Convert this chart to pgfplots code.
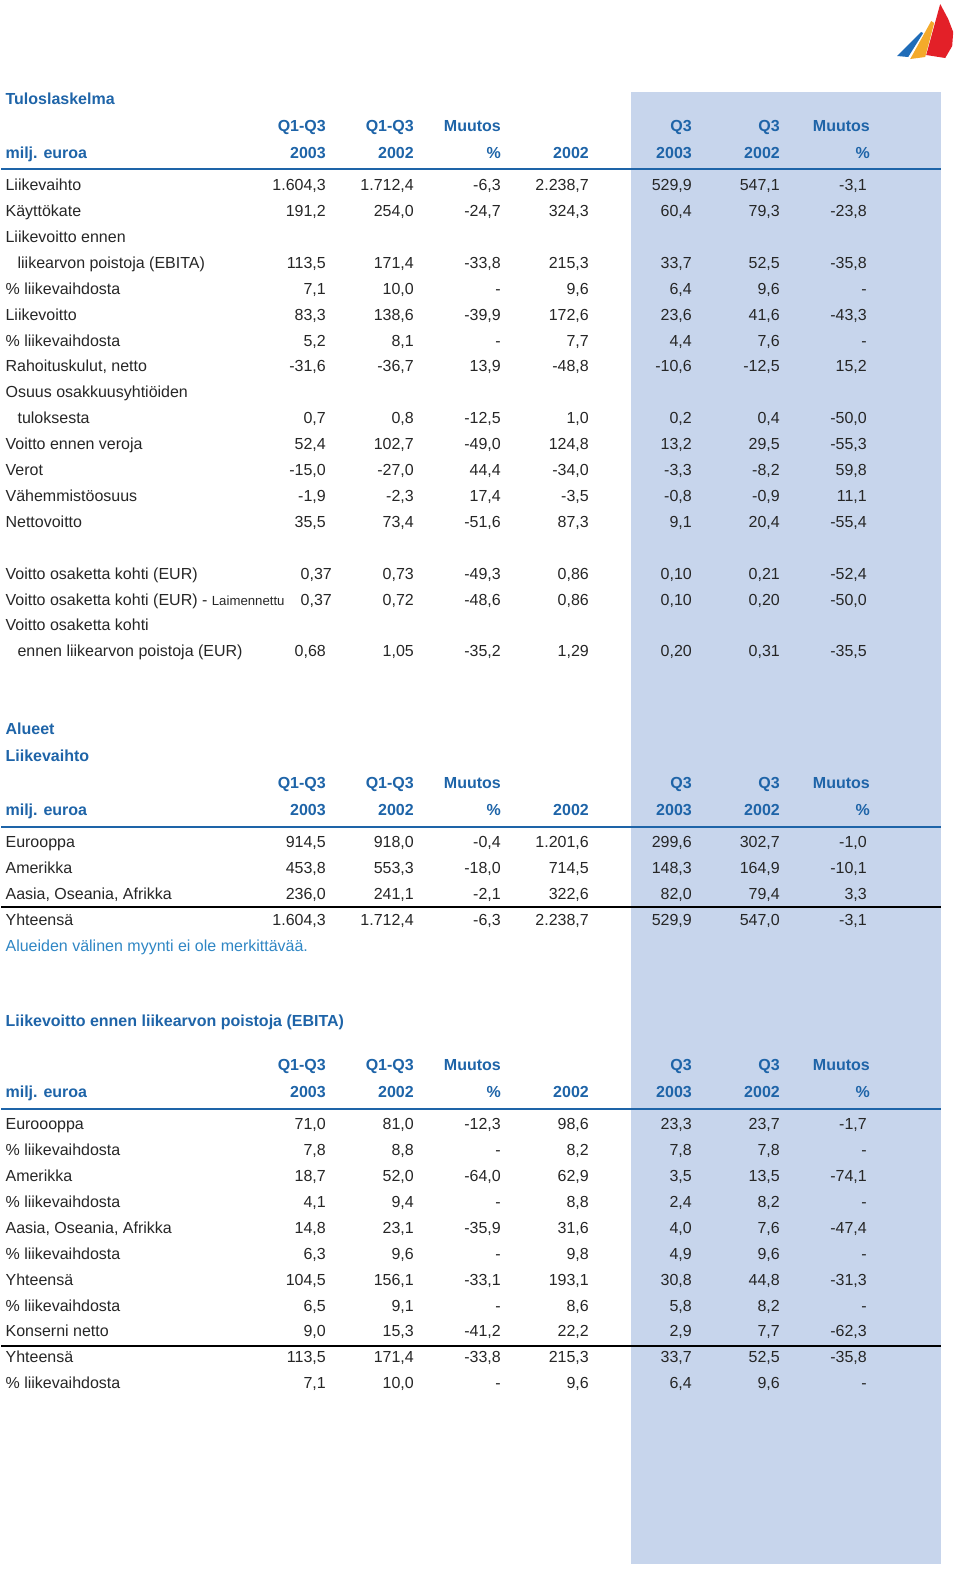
\documentclass[border=0pt]{standalone}
\usepackage{pgfplots}
\usepackage{pgfplotstable}
\usepackage{fontspec}
\setmainfont{Liberation Sans}
\pgfplotsset{compat=1.18}

\definecolor{hdrblue}{HTML}{1E64A8}
\definecolor{noteblue}{HTML}{2F86C4}
\definecolor{bgblue}{HTML}{C7D5EC}
\definecolor{txtgray}{HTML}{262626}
\definecolor{sailred}{HTML}{E32028}
\definecolor{sailyel}{HTML}{F4AA2A}
\definecolor{sailblue}{HTML}{1F6CB8}

% y = row centre in pixels, lx = x of label, ax = right edge of first column
\pgfplotstableread[col sep=semicolon]{
y;lx;ax;label;a;b;c;d;e;f;g
183;4;325;Liikevaihto;1.604,3;1.712,4;-6,3;2.238,7;529,9;547,1;-3,1
209;4;325;Käyttökate;191,2;254,0;-24,7;324,3;60,4;79,3;-23,8
235;4;325;Liikevoitto ennen;;;;;;;
261;16;325;liikearvon poistoja (EBITA);113,5;171,4;-33,8;215,3;33,7;52,5;-35,8
287;4;325;\% liikevaihdosta;7,1;10,0;-;9,6;6,4;9,6;-
313;4;325;Liikevoitto;83,3;138,6;-39,9;172,6;23,6;41,6;-43,3
339;4;325;\% liikevaihdosta;5,2;8,1;-;7,7;4,4;7,6;-
364;4;325;Rahoituskulut, netto;-31,6;-36,7;13,9;-48,8;-10,6;-12,5;15,2
390;4;325;Osuus osakkuusyhtiöiden;;;;;;;
416;16;325;tuloksesta;0,7;0,8;-12,5;1,0;0,2;0,4;-50,0
442;4;325;Voitto ennen veroja;52,4;102,7;-49,0;124,8;13,2;29,5;-55,3
468;4;325;Verot;-15,0;-27,0;44,4;-34,0;-3,3;-8,2;59,8
494;4;325;Vähemmistöosuus;-1,9;-2,3;17,4;-3,5;-0,8;-0,9;11,1
520;4;325;Nettovoitto;35,5;73,4;-51,6;87,3;9,1;20,4;-55,4
572;4;331;Voitto osaketta kohti (EUR);0,37;0,73;-49,3;0,86;0,10;0,21;-52,4
598;4;331;Voitto osaketta kohti (EUR) - {\fontsize{6.6}{7}\selectfont Laimennettu};0,37;0,72;-48,6;0,86;0,10;0,20;-50,0
623;4;325;Voitto osaketta kohti;;;;;;;
649;16;325;ennen liikearvon poistoja (EUR);0,68;1,05;-35,2;1,29;0,20;0,31;-35,5
840;4;325;Eurooppa;914,5;918,0;-0,4;1.201,6;299,6;302,7;-1,0
866;4;325;Amerikka;453,8;553,3;-18,0;714,5;148,3;164,9;-10,1
892;4;325;Aasia, Oseania, Afrikka;236,0;241,1;-2,1;322,6;82,0;79,4;3,3
918;4;325;Yhteensä;1.604,3;1.712,4;-6,3;2.238,7;529,9;547,0;-3,1
1122;4;325;Euroooppa;71,0;81,0;-12,3;98,6;23,3;23,7;-1,7
1148;4;325;\% liikevaihdosta;7,8;8,8;-;8,2;7,8;7,8;-
1174;4;325;Amerikka;18,7;52,0;-64,0;62,9;3,5;13,5;-74,1
1200;4;325;\% liikevaihdosta;4,1;9,4;-;8,8;2,4;8,2;-
1226;4;325;Aasia, Oseania, Afrikka;14,8;23,1;-35,9;31,6;4,0;7,6;-47,4
1252;4;325;\% liikevaihdosta;6,3;9,6;-;9,8;4,9;9,6;-
1278;4;325;Yhteensä;104,5;156,1;-33,1;193,1;30,8;44,8;-31,3
1304;4;325;\% liikevaihdosta;6,5;9,1;-;8,6;5,8;8,2;-
1329;4;325;Konserni netto;9,0;15,3;-41,2;22,2;2,9;7,7;-62,3
1355;4;325;Yhteensä;113,5;171,4;-33,8;215,3;33,7;52,5;-35,8
1381;4;325;\% liikevaihdosta;7,1;10,0;-;9,6;6,4;9,6;-
}\body

\pgfplotstableread[col sep=semicolon]{
y;label;a;b;c;d;e;f;g
124;;Q1-Q3;Q1-Q3;Muutos;;Q3;Q3;Muutos
151;milj. euroa;2003;2002;\%;2002;2003;2002;\%
781;;Q1-Q3;Q1-Q3;Muutos;;Q3;Q3;Muutos
808;milj. euroa;2003;2002;\%;2002;2003;2002;\%
1063;;Q1-Q3;Q1-Q3;Muutos;;Q3;Q3;Muutos
1090;milj. euroa;2003;2002;\%;2002;2003;2002;\%
}\hdr

\pgfplotsset{
  txt/.style={draw=none, mark=none, nodes near coords, point meta=explicit symbolic,
    nodes near coords style={anchor=base east, yshift=-3.6pt, inner sep=0pt,
      font=\fontsize{8}{9}\selectfont, text=txtgray}},
  txtl/.style={txt, nodes near coords style={anchor=base west}},
  bold/.style={nodes near coords style={font=\fontsize{8}{9}\selectfont\bfseries, text=hdrblue}},
}

\begin{document}
\begin{tikzpicture}
\begin{axis}[
    scale only axis, width=480pt, height=785pt,
    xmin=0, xmax=960, ymin=0, ymax=1570, y dir=reverse,
    hide axis, clip=false,
]
% keep the whole page in the picture
\addplot[draw=none] coordinates {(0,0) (960,1570)};

% shaded Q3 columns
\addplot[fill=bgblue, draw=none] coordinates {(630,92) (940,92) (940,1564) (630,1564)};

% rules
\addplot[draw=hdrblue, line width=1pt] coordinates {(0,169) (940,169)};
\addplot[draw=hdrblue, line width=1pt] coordinates {(0,827) (940,827)};
\addplot[draw=hdrblue, line width=1pt] coordinates {(0,1109) (940,1109)};
\addplot[draw=black, line width=1.2pt] coordinates {(0,907) (940,907)};
\addplot[draw=black, line width=1.2pt] coordinates {(0,1346) (940,1346)};

% logo
\addplot[fill=sailred, draw=none] coordinates {(939,4) (947,19) (952,32) (951,46) (944,58) (925,55)};
\addplot[fill=sailyel, draw=none] coordinates {(930,21) (933,23) (924,57) (909,59)};
\addplot[fill=sailblue, draw=none] coordinates {(920,32) (922,33) (907,57) (896,56)};

% body
\addplot[txtl] table[x=lx, y=y, meta=label] {\body};
\addplot[txt] table[x=ax, y=y, meta=a] {\body};
\addplot[txt] table[x expr=413, y=y, meta=b] {\body};
\addplot[txt] table[x expr=500, y=y, meta=c] {\body};
\addplot[txt] table[x expr=588, y=y, meta=d] {\body};
\addplot[txt] table[x expr=691, y=y, meta=e] {\body};
\addplot[txt] table[x expr=779, y=y, meta=f] {\body};
\addplot[txt] table[x expr=866, y=y, meta=g] {\body};

% headers
\addplot[txtl, bold] table[x expr=4, y=y, meta=label] {\hdr};
\addplot[txt, bold] table[x expr=325, y=y, meta=a] {\hdr};
\addplot[txt, bold] table[x expr=413, y=y, meta=b] {\hdr};
\addplot[txt, bold] table[x expr=500, y=y, meta=c] {\hdr};
\addplot[txt, bold] table[x expr=588, y=y, meta=d] {\hdr};
\addplot[txt, bold] table[x expr=691, y=y, meta=e] {\hdr};
\addplot[txt, bold] table[x expr=779, y=y, meta=f] {\hdr};
\addplot[txt, bold] table[x expr=869, y=y, meta=g] {\hdr};

% titles
\addplot[txtl, bold] coordinates {
  (4,97) [Tuloslaskelma]
  (4,727) [Alueet]
  (4,754) [Liikevaihto]
  (4,1019) [{Liikevoitto ennen liikearvon poistoja (EBITA)}]
};
\addplot[txtl, nodes near coords style={text=noteblue}] coordinates {
  (4,944) [{Alueiden välinen myynti ei ole merkittävää.}]
};
\end{axis}
\end{tikzpicture}
\end{document}
